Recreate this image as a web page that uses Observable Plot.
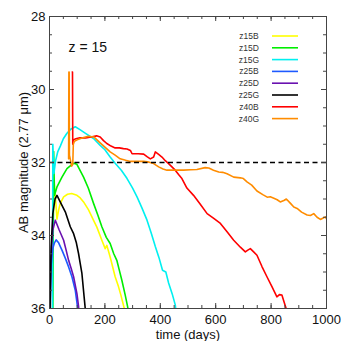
<!DOCTYPE html>
<html><head><meta charset="utf-8">
<script src="https://cdn.jsdelivr.net/npm/d3@7"></script>
<script src="https://cdn.jsdelivr.net/npm/@observablehq/plot@0.6"></script>
<style>
html,body{margin:0;padding:0;background:#fff;}
#chart{position:relative;width:341px;height:341px;}
</style>
</head><body><div id="chart"></div>
<script>
// series names and colours
const seriesNames = ["z15B","z15D","z15G","z25B","z25D","z25G","z40B","z40G"];
const seriesColors = ["#ffff00","#00ee00","#00f0f0","#1e5aff","#6a11b0","#000000","#ff0000","#ff8c00"];

// light curves: [time (days), AB magnitude]
const z15B = [[11,36],[15,32.4],[20,32.8],[27,33.55],[33,33.3],[39,33.12],[51,32.94],[65,32.87],[80,32.85],[99,32.9],[111,32.97],[123,33.08],[141,33.3],[160,33.6],[171,33.77],[189,34.13],[201,34.36],[207,34.27],[219,34.59],[237,35.13],[249,35.4],[258,35.64],[270,36.0],[275,36.3]];
const z15D = [[12,36],[15,31.7],[18,32.9],[27,32.67],[45,32.4],[63,32.17],[87,32.02],[99,32.05],[123,32.4],[140,32.7],[159,33.12],[175,33.45],[189,33.76],[205,34.05],[219,34.22],[232,34.5],[243,34.68],[252,34.95],[261,35.22],[273,35.62],[282,35.95],[290,36.3]];
const z15G = [[11,36],[12,31.5],[16,32.3],[22,31.95],[30,31.7],[39,31.55],[50,31.35],[63,31.2],[78,31.08],[93,31.02],[110,31.1],[130,31.2],[160,31.35],[183,31.53],[200,31.65],[219,31.85],[237,32.02],[260,32.22],[280,32.44],[300,32.7],[316,32.94],[334,33.25],[352,33.58],[368,33.95],[382,34.3],[395,34.6],[408,34.95],[420,35.0],[430,35.3],[443,35.6],[454,35.9],[460,36.3]];
const z25B = [[3,36],[6,34.8],[12,34.35],[18,34.2],[24,34.12],[33,34.2],[45,34.4],[57,34.62],[69,34.86],[81,35.13],[93,35.5],[101,35.95],[104,36.3]];
const z25D = [[1,36],[5,34.6],[12,33.85],[21,33.58],[35,33.85],[51,34.13],[60,34.4],[69,34.68],[78,34.9],[87,35.13],[99,35.59],[105,35.95],[108,36.3]];
const z25G = [[2,36],[6,34.3],[12,33.4],[20,33.0],[27,32.9],[40,33.1],[57,33.35],[75,33.76],[87,33.95],[97,34.2],[105,34.5],[111,34.77],[117,35.04],[125,35.68],[129,36.0],[131,36.3]];
const z40B = [[82,29.52],[83,29.52],[84,31.5],[86,31.38],[95,31.35],[110,31.32],[130,31.33],[150,31.3],[170,31.27],[183,31.3],[195,31.4],[207,31.48],[222,31.55],[237,31.6],[252,31.6],[267,31.62],[280,31.63],[292,31.67],[298,31.76],[320,31.76],[340,31.77],[352,31.84],[364,31.9],[376,31.85],[382,31.71],[394,31.78],[406,31.85],[418,31.95],[430,32.03],[442,32.12],[454,32.21],[466,32.33],[478,32.44],[496,32.7],[520,32.9],[545,33.15],[569,33.4],[593,33.53],[617,33.67],[641,33.9],[665,34.13],[689,34.32],[707,34.45],[716,34.4],[725,34.36],[737,34.45],[749,34.54],[767,34.85],[785,35.13],[803,35.4],[821,35.68],[830,35.62],[839,35.63],[848,35.85],[856,36.04],[860,36.3]];
const z40G = [[69,31.9],[70,29.52],[71,29.52],[72,31.8],[76,31.95],[80,32.1],[84,32.05],[86,31.5],[90,31.42],[100,31.38],[120,31.32],[140,31.28],[160,31.3],[183,31.46],[200,31.58],[219,31.71],[237,31.8],[255,31.9],[275,31.94],[292,31.97],[315,31.97],[340,31.97],[360,31.99],[376,32.03],[394,32.12],[410,32.18],[424,32.21],[450,32.21],[484,32.21],[510,32.2],[532,32.19],[562,32.14],[575,32.15],[592,32.21],[611,32.26],[625,32.27],[641,32.31],[665,32.4],[689,32.42],[700,32.44],[713,32.53],[730,32.62],[749,32.78],[770,32.88],[786,32.95],[797,32.94],[810,32.98],[822,33.02],[833,33.08],[846,33.04],[855,33.0],[870,33.12],[882,33.22],[894,33.26],[910,33.36],[930,33.44],[942,33.45],[954,33.4],[966,33.5],[978,33.56],[988,33.52],[996,33.49],[1000,33.54]];

const seriesData = [z15B,z15D,z15G,z25B,z25D,z25G,z40B,z40G];

// axis tick values
const xMajor = [0,200,400,600,800,1000];
const xMinor = d3.range(0, 1001, 50);
const yMajor = [28,30,32,34,36];
const yMinor = d3.range(28, 36.01, 0.5);
const thresholdMag = [32];
const annotation = ["z = 15"];

const rows = [];
seriesData.forEach((arr, i) => arr.forEach(([t, m]) => rows.push({series: seriesNames[i], t, m})));

const W = 341, H = 341, mL = 49, mR = 15, mT = 16, mB = 33;
const iw = W - mL - mR, ih = H - mT - mB;
const tickCol = "#444";

const plot = Plot.plot({
  width: W, height: H,
  marginLeft: mL, marginRight: mR, marginTop: mT, marginBottom: mB,
  style: {fontFamily: "'Liberation Sans', Arial, sans-serif", fontSize: "13px", color: "#111", background: "#fff", overflow: "visible"},
  x: {domain: [0, 1000]},
  y: {domain: [36, 28]},
  color: {domain: seriesNames, range: seriesColors},
  marks: [
    Plot.line(rows, {x: "t", y: "m", z: "series", stroke: "series", strokeWidth: 1.6, clip: true, curve: "linear"}),
    Plot.ruleY(thresholdMag, {stroke: "#000", strokeWidth: 1.6, strokeDasharray: "5,3.5"}),
    // inward ticks on all four sides
    Plot.tickX(xMinor, {x: d => d, stroke: tickCol, insetTop: ih - 3}),
    Plot.tickX(xMinor, {x: d => d, stroke: tickCol, insetBottom: ih - 3}),
    Plot.tickX(xMajor, {x: d => d, stroke: tickCol, insetTop: ih - 5}),
    Plot.tickX(xMajor, {x: d => d, stroke: tickCol, insetBottom: ih - 5}),
    Plot.tickY(yMinor, {y: d => d, stroke: tickCol, insetRight: iw - 3}),
    Plot.tickY(yMinor, {y: d => d, stroke: tickCol, insetLeft: iw - 3}),
    Plot.tickY(yMajor, {y: d => d, stroke: tickCol, insetRight: iw - 5}),
    Plot.tickY(yMajor, {y: d => d, stroke: tickCol, insetLeft: iw - 5}),
    Plot.frame({stroke: tickCol, strokeWidth: 1}),
    Plot.axisX({ticks: xMajor, tickSize: 0, tickPadding: 6, tickFormat: d3.format("d"), label: "time (days)", labelAnchor: "center", labelOffset: 30, labelArrow: "none"}),
    Plot.axisY({ticks: yMajor, tickSize: 0, tickPadding: 4, tickFormat: d3.format("d"), label: "AB magnitude (2.77 μm)", labelAnchor: "center", labelOffset: 31, labelArrow: "none"}),
    Plot.text(annotation, {frameAnchor: "top-left", dx: 19, dy: 31, lineAnchor: "middle", textAnchor: "start", fontSize: 14, fill: "#111"})
  ]
});

// legend (top right inside plot)
const svg = d3.select(plot);
const lg = svg.append("g").attr("font-family", "'Liberation Sans', Arial, sans-serif").attr("font-size", 8.5);
seriesNames.forEach((name, i) => {
  const y = 36 + i * 11.8;
  lg.append("text").attr("x", 249).attr("y", y).attr("dy", "0.35em").attr("fill", "#333").text(name);
  lg.append("line").attr("x1", 272).attr("x2", 298).attr("y1", y).attr("y2", y).attr("stroke", seriesColors[i]).attr("stroke-width", 1.6);
});

document.getElementById("chart").appendChild(plot);
</script>
</body></html>
